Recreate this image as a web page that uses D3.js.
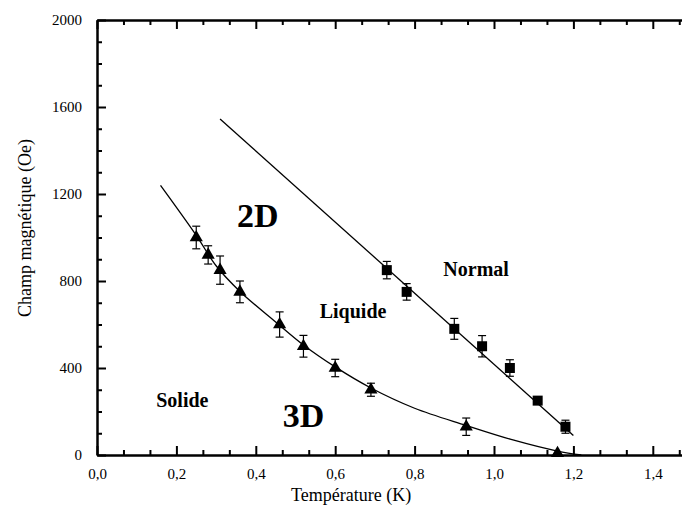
<!DOCTYPE html>
<html>
<head>
<meta charset="utf-8">
<script src="https://cdn.jsdelivr.net/npm/d3@7"></script>
<style>
  body { margin: 0; background: #fff; }
  svg, svg text { font-family: "Liberation Serif", "Times New Roman", serif !important; }
</style>
</head>
<body>
<svg id="chart"></svg>
<script>
const width = 682;
const height = 506;

// points 3D (triangles) : T (K), H (Oe), barre d'erreur (Oe)
const triT = [0.25, 0.28, 0.31, 0.36, 0.46, 0.52, 0.60, 0.69, 0.93, 1.16];
const triH = [1000, 920, 850, 750, 600, 500, 400, 300, 130, 8];
const triErr = [52, 42, 65, 50, 58, 50, 40, 30, 40, 0];

// points 2D (carrés)
const sqT = [0.73, 0.78, 0.90, 0.97, 1.04, 1.11, 1.18];
const sqH = [850, 750, 580, 500, 400, 250, 130];
const sqErr = [40, 38, 48, 49, 38, 0, 30];

// courbes d'ajustement
const fit3dT = [0.16, 0.25, 0.30, 0.36, 0.45, 0.52, 0.60, 0.69, 0.80, 0.93, 1.05, 1.16, 1.22];
const fit3dH = [1240, 1010, 870, 752, 612, 506, 405, 308, 215, 136, 68, 18, 0];
const fit2dT = [0.31, 1.20];
const fit2dH = [1545, 90];

const xTicks = [0, 0.2, 0.4, 0.6, 0.8, 1.0, 1.2, 1.4];
const xTickLabels = ["0,0", "0,2", "0,4", "0,6", "0,8", "1,0", "1,2", "1,4"];
const yTicks = [0, 400, 800, 1200, 1600, 2000];
const yTickLabels = ["0", "400", "800", "1200", "1600", "2000"];

const regionLabels = [
  { text: "2D", t: 0.405, h: 1050, size: 34 },
  { text: "3D", t: 0.52, h: 130, size: 34 },
  { text: "Liquide", t: 0.645, h: 630, size: 20 },
  { text: "Normal", t: 0.955, h: 825, size: 20 },
  { text: "Solide", t: 0.215, h: 220, size: 20 }
];

const svg = d3.select("#chart")
  .attr("width", width)
  .attr("height", height);

const x = d3.scaleLinear().domain([0, 1.5]).range([97, 692.5]);
const y = d3.scaleLinear().domain([0, 2000]).range([455, 20]);

// graduations secondaires
const xMinor = d3.range(0, 1.5001, 0.2 / 3).filter(v => !xTicks.some(t => Math.abs(t - v) < 1e-6));
const yMinor = d3.range(0, 2001, 100).filter(v => v % 400 !== 0);

function styleAxis(g) {
  g.attr("font-family", null);
  g.select(".domain").attr("stroke", "#000").attr("stroke-width", 2);
  g.selectAll(".tick line").attr("stroke", "#000").attr("stroke-width", 2);
  g.selectAll(".tick text").attr("font-size", 15).attr("fill", "#000");
}

// axe du bas
svg.append("g")
  .attr("transform", `translate(0,${y(0)})`)
  .call(d3.axisBottom(x).tickValues(xTicks).tickSize(-9).tickSizeOuter(0).tickPadding(13)
    .tickFormat((d, i) => xTickLabels[i]))
  .call(styleAxis);
svg.append("g")
  .attr("transform", `translate(0,${y(0)})`)
  .call(d3.axisBottom(x).tickValues(xMinor).tickSize(-5).tickSizeOuter(0).tickFormat(""))
  .call(styleAxis);

// axe du haut
svg.append("g")
  .attr("transform", `translate(0,${y(2000)})`)
  .call(d3.axisTop(x).tickValues(xTicks).tickSize(-9).tickSizeOuter(0).tickFormat(""))
  .call(styleAxis);
svg.append("g")
  .attr("transform", `translate(0,${y(2000)})`)
  .call(d3.axisTop(x).tickValues(xMinor).tickSize(-5).tickSizeOuter(0).tickFormat(""))
  .call(styleAxis);

// axe de gauche
svg.append("g")
  .attr("transform", `translate(${x(0)},0)`)
  .call(d3.axisLeft(y).tickValues(yTicks).tickSize(-9).tickSizeOuter(0).tickPadding(15)
    .tickFormat((d, i) => yTickLabels[i]))
  .call(styleAxis);
svg.append("g")
  .attr("transform", `translate(${x(0)},0)`)
  .call(d3.axisLeft(y).tickValues(yMinor).tickSize(-5).tickSizeOuter(0).tickFormat(""))
  .call(styleAxis);

// titres des axes
svg.append("text")
  .attr("x", x(0.64)).attr("y", 501)
  .attr("text-anchor", "middle")
  .attr("font-size", 18)
  .text("Température (K)");

svg.append("text")
  .attr("transform", `translate(31,228) rotate(-90)`)
  .attr("text-anchor", "middle")
  .attr("font-size", 18)
  .text("Champ magnétique (Oe)");

// courbes
const line = d3.line()
  .x(d => x(d[0]))
  .y(d => y(d[1]))
  .curve(d3.curveCatmullRom.alpha(0.5));

svg.append("path")
  .datum(d3.zip(fit3dT, fit3dH))
  .attr("d", line)
  .attr("fill", "none")
  .attr("stroke", "#000")
  .attr("stroke-width", 1.3);

svg.append("path")
  .datum(d3.zip(fit2dT, fit2dH))
  .attr("d", line)
  .attr("fill", "none")
  .attr("stroke", "#000")
  .attr("stroke-width", 1.3);

// barres d'erreur
function errorBars(T, H, E) {
  const data = d3.zip(T, H, E).filter(d => d[2] > 0);
  const g = svg.append("g").attr("stroke", "#000").attr("stroke-width", 1.2);
  data.forEach(d => {
    const cx = x(d[0]);
    const y1 = y(d[1] + d[2]);
    const y2 = y(d[1] - d[2]);
    g.append("line").attr("x1", cx).attr("x2", cx).attr("y1", y1).attr("y2", y2);
    g.append("line").attr("x1", cx - 4).attr("x2", cx + 4).attr("y1", y1).attr("y2", y1);
    g.append("line").attr("x1", cx - 4).attr("x2", cx + 4).attr("y1", y2).attr("y2", y2);
  });
}
errorBars(triT, triH, triErr);
errorBars(sqT, sqH, sqErr);

// triangles
svg.append("g")
  .selectAll("path")
  .data(d3.zip(triT, triH))
  .join("path")
  .attr("transform", d => `translate(${x(d[0])},${y(d[1])})`)
  .attr("d", d3.symbol(d3.symbolTriangle, 75))
  .attr("fill", "#000");

// carrés
svg.append("g")
  .selectAll("rect")
  .data(d3.zip(sqT, sqH))
  .join("rect")
  .attr("x", d => x(d[0]) - 5)
  .attr("y", d => y(d[1]) - 5)
  .attr("width", 10)
  .attr("height", 10)
  .attr("fill", "#000");

// étiquettes des régions
svg.append("g")
  .selectAll("text")
  .data(regionLabels)
  .join("text")
  .attr("x", d => x(d.t))
  .attr("y", d => y(d.h))
  .attr("text-anchor", "middle")
  .attr("font-weight", "bold")
  .attr("font-size", d => d.size)
  .text(d => d.text);
</script>
</body>
</html>
